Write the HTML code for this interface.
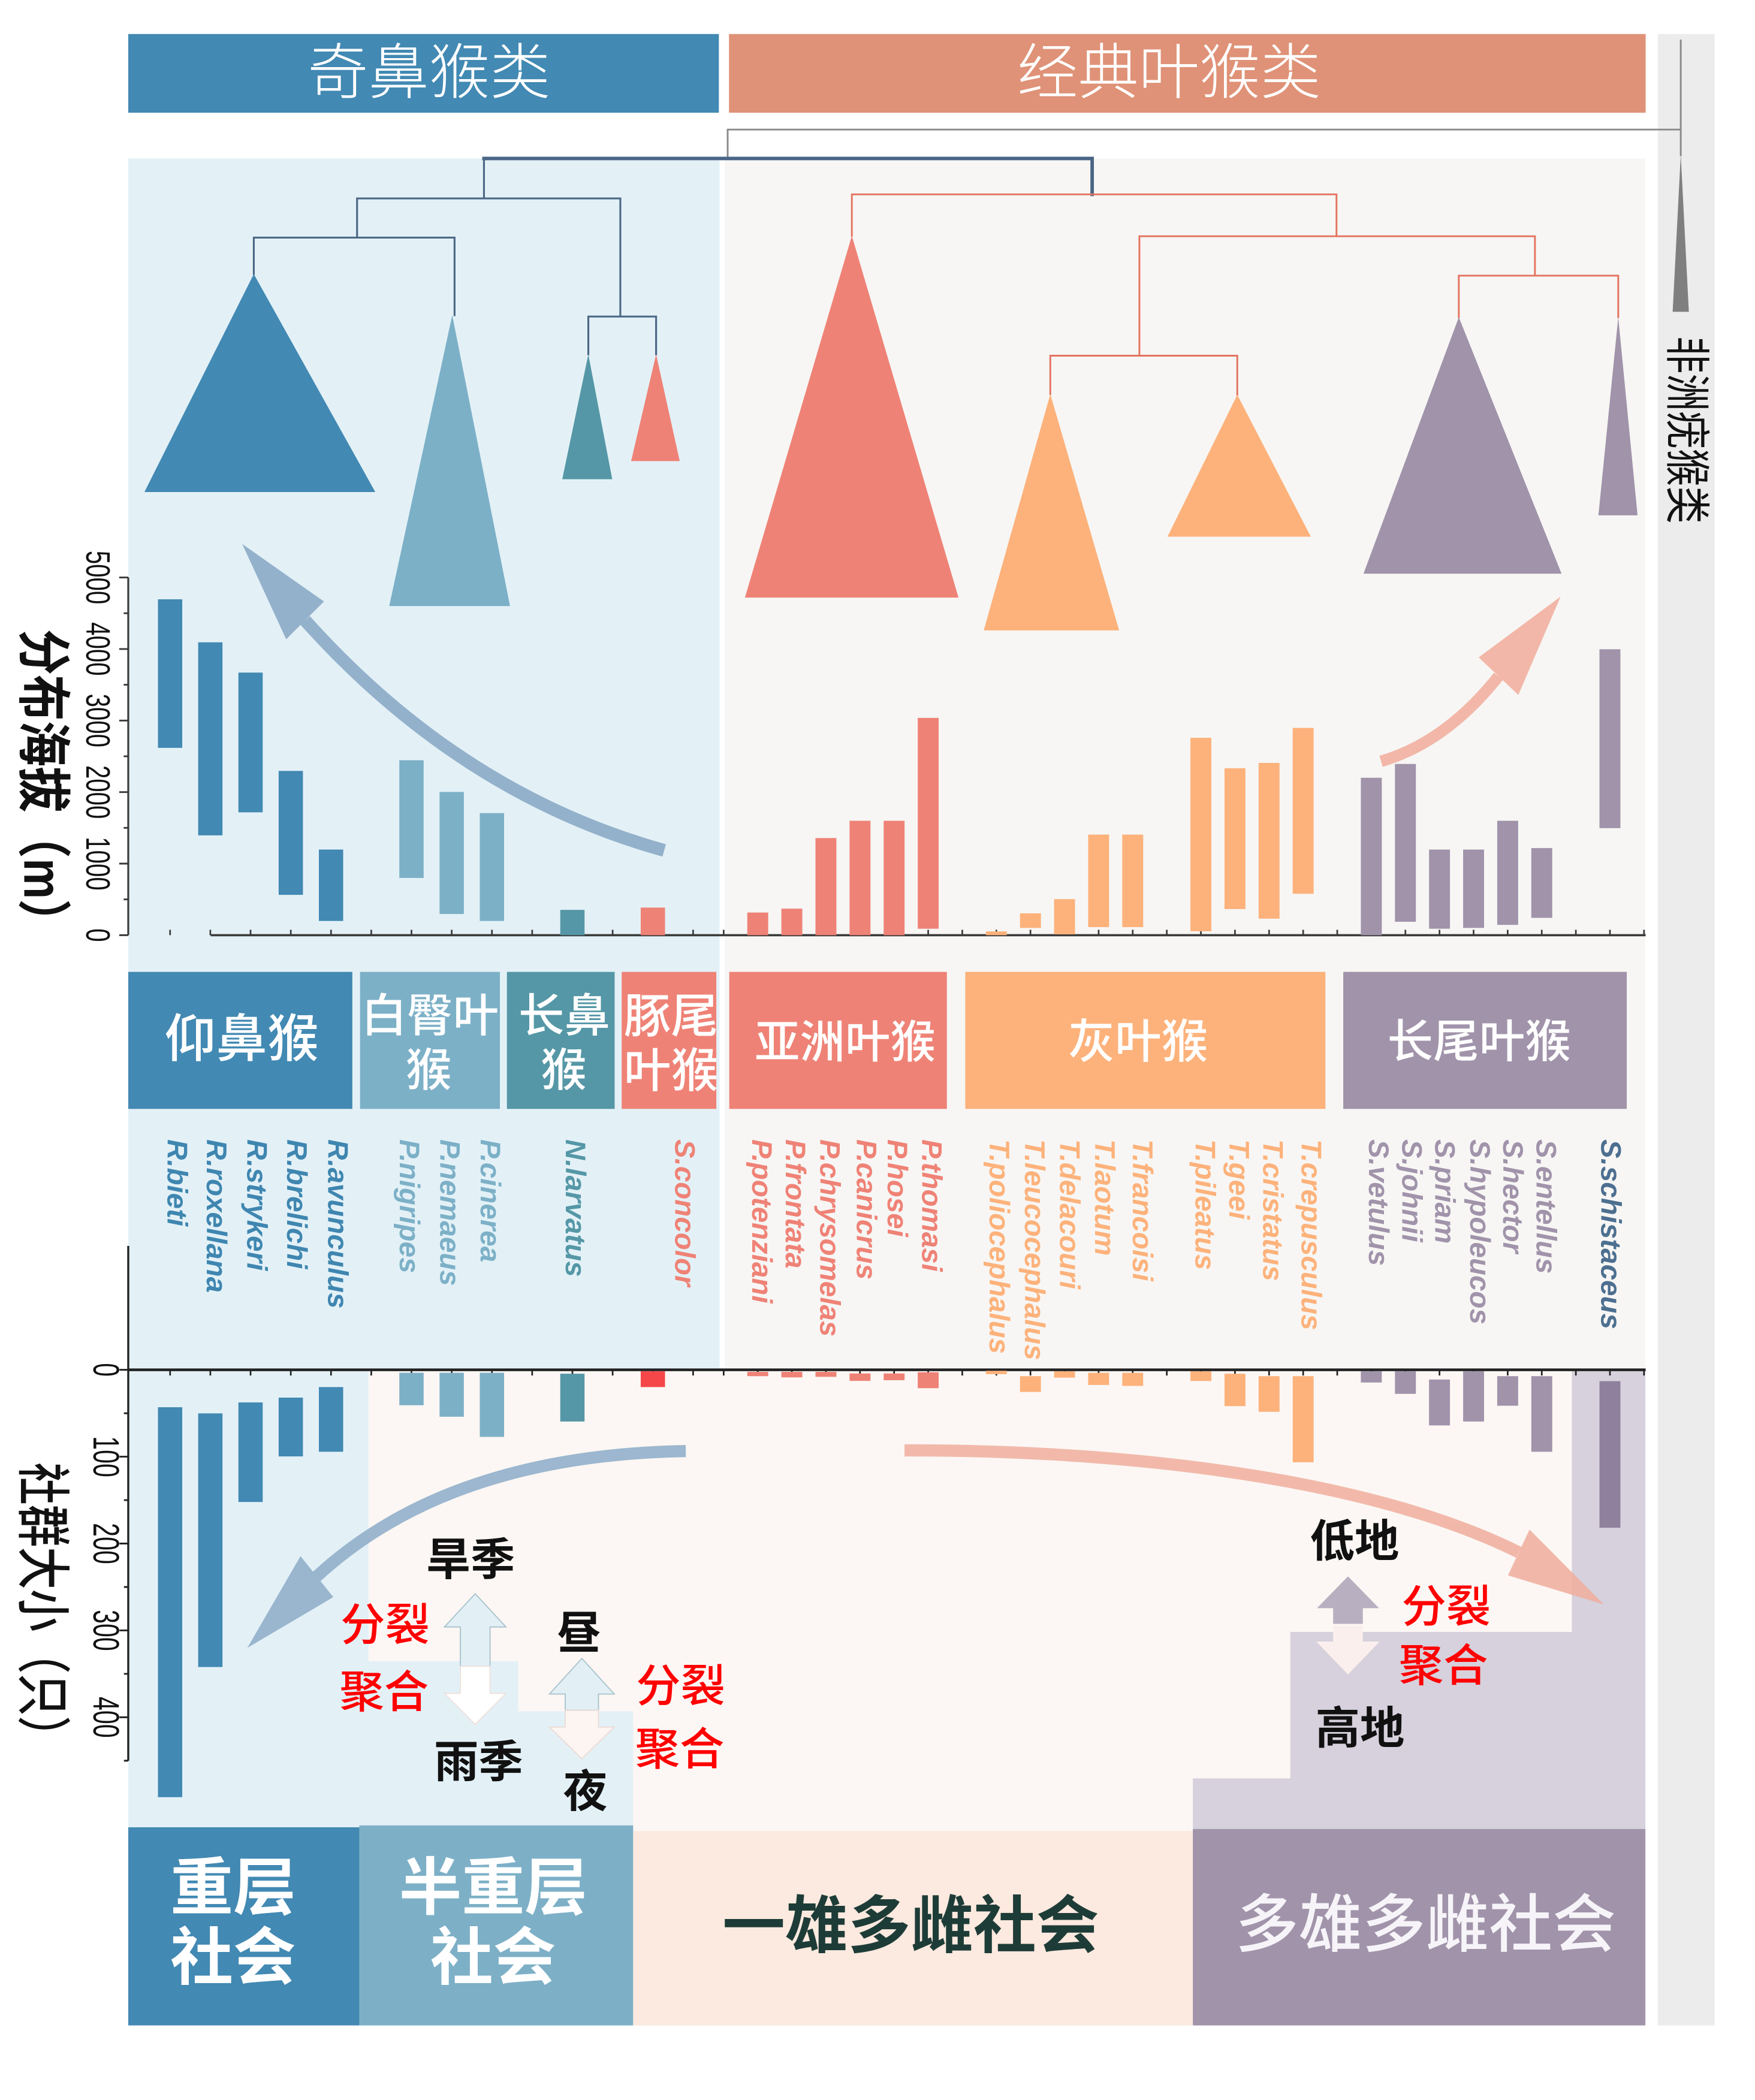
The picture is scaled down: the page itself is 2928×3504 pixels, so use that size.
<!DOCTYPE html>
<html><head><meta charset="utf-8"><style>
html,body{margin:0;padding:0;background:#fff;}
svg{display:block;}
.cj{font-family:"Liberation Sans","Noto Sans CJK SC",sans-serif;}
.nm{font-family:"Liberation Sans",sans-serif;font-style:italic;font-weight:bold;font-size:21.1px;}
.tk{font-family:"Liberation Sans",sans-serif;}
</style></head><body>
<svg width="2928" height="3504" viewBox="0 0 1300 1555.74" xmlns="http://www.w3.org/2000/svg">
<rect x="0" y="0" width="1300" height="1555.74" fill="#ffffff"/>

<!-- right gray column -->
<rect x="1228" y="25.2" width="42" height="1475.3" fill="#ececec"/>

<!-- header boxes -->
<rect x="95" y="25.2" width="437.5" height="58.3" fill="#4289b3"/>
<rect x="540" y="25.2" width="679" height="58.3" fill="#df9277"/>
<text class="cj" x="317.8" y="54" font-size="45" fill="#fff" text-anchor="middle" dominant-baseline="central" font-weight="300">奇鼻猴类</text>
<text class="cj" x="866" y="54" font-size="45" fill="#fff" text-anchor="middle" dominant-baseline="central" font-weight="300">经典叶猴类</text>

<!-- panels -->
<rect x="95" y="117.4" width="438" height="897.4" fill="#e3f1f7"/>
<rect x="537" y="117.4" width="681.6" height="897.4" fill="#f7f6f4"/>

<!-- lower regions -->
<polygon points="95,1014.8 273,1014.8 273,1230.6 384,1230.6 384,1267.7 469,1267.7 469,1358 95,1358" fill="#e3f1f7"/>
<polygon points="273,1014.8 1164.3,1014.8 1164.3,1209 955.8,1209 955.8,1317.5 883.6,1317.5 883.6,1358 469,1358 469,1267.7 384,1267.7 384,1230.6 273,1230.6" fill="#fcf7f4"/>
<polygon points="1164.3,1014.8 1218.8,1014.8 1218.8,1358 883.6,1358 883.6,1317.5 955.8,1317.5 955.8,1209 1164.3,1209" fill="#d6d1dc"/>

<!-- dendrogram -->
<g fill="none" stroke-linecap="square">
<path d="M1245 30V115 M539 96H1245 M539 96V117.4" stroke="#8a8a8a" stroke-width="1.3"/>
<path d="M358.5 117.4H809 M809 117.4V144" stroke="#4a6585" stroke-width="2.6"/>
<path d="M358.5 117.4V147 M264.5 147H459.5 M264.5 147V176 M459.5 147V234.5 M188 176H336.7 M188 176V203 M336.7 176V233.5 M435.8 234.5H486 M435.8 234.5V262.5 M486 234.5V262.5" stroke="#4d6886" stroke-width="1.4"/>
<path d="M631 144H990 M631 144V174.7 M990 144V175 M844 175H1137 M844 175V263.5 M778 263.5H916.5 M778 263.5V292 M916.5 263.5V292.5 M1137 175V204.2 M1080.6 204.2H1198.7 M1080.6 204.2V235 M1198.7 204.2V235" stroke="#e4735f" stroke-width="1.3"/>
</g>
<!-- clade triangles -->
<polygon points="188,203 107,364.5 278,364.5" fill="#4289b3"/>
<polygon points="335,233.5 288.3,449 377.8,449" fill="#7cb0c7"/>
<polygon points="435.8,262.5 416.5,355 453.5,355" fill="#5597a6"/>
<polygon points="486,262.5 467.5,341.6 503.5,341.6" fill="#ef8276"/>
<polygon points="631,174.7 551.8,442.7 710,442.7" fill="#ef8276"/>
<polygon points="778,292 728.7,467 829,467" fill="#fdb27b"/>
<polygon points="916.5,292.5 864.8,397.6 971,397.6" fill="#fdb27b"/>
<polygon points="1080.6,235 1010,425 1156.7,425" fill="#a093aa"/>
<polygon points="1198.7,235 1184,381.8 1213,381.8" fill="#a093aa"/>
<polygon points="1245,114.6 1239,231 1251,231" fill="#7f7f7f"/>
<text class="cj" transform="translate(1249,318.5) rotate(90)" font-size="34" fill="#111" text-anchor="middle" dominant-baseline="central" textLength="139" lengthAdjust="spacingAndGlyphs">非洲疣猴类</text>

<!-- upper axis -->
<g stroke="#3a3a3a" fill="none">
<path d="M95 427.8V692.8" stroke-width="1.4"/>
<path d="M88.3 427.8H95M88.3 480.8H95M88.3 533.8H95M88.3 586.8H95M88.3 639.8H95M88.3 692.8H95M91.6 454.3H95M91.6 507.3H95M91.6 560.3H95M91.6 613.3H95M91.6 666.3H95" stroke-width="1.3"/>
<path d="M156 692.8H1219" stroke-width="1.6"/>
<path d="M126 688.8V692.8M155.8 688.8V692.8M185.6 688.8V692.8M215.4 688.8V692.8M245.2 688.8V692.8M275 688.8V692.8M304.8 688.8V692.8M334.6 688.8V692.8M364.4 688.8V692.8M394.2 688.8V692.8M424 688.8V692.8M453.8 688.8V692.8M483.6 688.8V692.8M513.4 688.8V692.8M536.05 688.8V692.8M561.3 688.8V692.8M586.55 688.8V692.8M611.8 688.8V692.8M637.05 688.8V692.8M662.3 688.8V692.8M687.55 688.8V692.8M712.8 688.8V692.8M738.05 688.8V692.8M763.3 688.8V692.8M788.55 688.8V692.8M813.8 688.8V692.8M839.05 688.8V692.8M864.3 688.8V692.8M889.55 688.8V692.8M914.8 688.8V692.8M940.05 688.8V692.8M965.3 688.8V692.8M990.55 688.8V692.8M1015.8 688.8V692.8M1041.05 688.8V692.8M1066.3 688.8V692.8M1091.55 688.8V692.8M1116.8 688.8V692.8M1142.05 688.8V692.8M1167.3 688.8V692.8M1192.55 688.8V692.8M1217.8 688.8V692.8" stroke-width="1.2"/>
</g>
<g class="tk" font-size="25" fill="#111" text-anchor="middle" dominant-baseline="central">
<text transform="translate(72.5,427.8) rotate(90)" textLength="39.7" lengthAdjust="spacingAndGlyphs">5000</text>
<text transform="translate(72.5,480.8) rotate(90)" textLength="39.7" lengthAdjust="spacingAndGlyphs">4000</text>
<text transform="translate(72.5,533.8) rotate(90)" textLength="39.7" lengthAdjust="spacingAndGlyphs">3000</text>
<text transform="translate(72.5,586.8) rotate(90)" textLength="39.7" lengthAdjust="spacingAndGlyphs">2000</text>
<text transform="translate(72.5,639.8) rotate(90)" textLength="39.7" lengthAdjust="spacingAndGlyphs">1000</text>
<text transform="translate(72.5,692.8) rotate(90)" textLength="10" lengthAdjust="spacingAndGlyphs">0</text>
</g>
<text class="cj" transform="translate(31.5,583) rotate(90)" font-size="40" font-weight="bold" fill="#111" text-anchor="middle" dominant-baseline="central" textLength="234" lengthAdjust="spacingAndGlyphs">分布海拔（m）</text>

<!-- altitude bars -->
<g fill="#4289b3">
<rect x="117" y="443.98" width="18" height="110.06"/>
<rect x="146.8" y="475.84" width="18" height="143.02"/>
<rect x="176.6" y="498.27" width="18" height="103.52"/>
<rect x="206.4" y="571.12" width="18" height="91.81"/>
<rect x="236.2" y="629.38" width="18" height="52.9"/>
</g>
<g fill="#7cb0c7">
<rect x="295.8" y="563.18" width="18" height="87.24"/>
<rect x="325.6" y="586.7" width="18" height="90.42"/>
<rect x="355.4" y="602.38" width="18" height="79.9"/>
</g>
<rect x="415" y="674.05" width="18" height="18.76" fill="#5597a6"/>
<rect x="474.6" y="672.36" width="18" height="20.45" fill="#ef8276"/>
<g fill="#ef8276">
<rect x="553.55" y="676.03" width="15.5" height="16.78"/>
<rect x="578.8" y="673.15" width="15.5" height="19.66"/>
<rect x="604.05" y="620.85" width="15.5" height="71.96"/>
<rect x="629.3" y="608.05" width="15.5" height="84.76"/>
<rect x="654.55" y="608.05" width="15.5" height="84.76"/>
<rect x="679.8" y="531.83" width="15.5" height="156.2"/>
</g>
<g fill="#fdb27b">
<rect x="730.3" y="690" width="15.5" height="2.8"/>
<rect x="755.55" y="676.62" width="15.5" height="10.8"/>
<rect x="780.8" y="666.11" width="15.5" height="26.1"/>
<rect x="806.05" y="618.27" width="15.5" height="68.55"/>
<rect x="831.3" y="618.27" width="15.5" height="68.55"/>
<rect x="881.8" y="546.6" width="15.5" height="143.32"/>
<rect x="907.05" y="569.14" width="15.5" height="104.31"/>
<rect x="932.3" y="565.17" width="15.5" height="115.41"/>
<rect x="957.55" y="539.26" width="15.5" height="122.87"/>
</g>
<g fill="#a093aa">
<rect x="1008.05" y="576.18" width="15.5" height="116.63"/>
<rect x="1033.3" y="565.96" width="15.5" height="116.91"/>
<rect x="1058.55" y="629.38" width="15.5" height="58.65"/>
<rect x="1083.8" y="629.38" width="15.5" height="58.04"/>
<rect x="1109.05" y="608.05" width="15.5" height="77.11"/>
<rect x="1134.3" y="628.29" width="15.5" height="51.68"/>
<rect x="1184.8" y="480.99" width="15.5" height="132.51"/>
</g>

<!-- upper arrows -->
<path d="M492,630 Q341,588 226,459.6" fill="none" stroke="#94b1cb" stroke-width="9.5"/>
<polygon points="179.4,403 212,473.6 240,445.6" fill="#94b1cb"/>
<path d="M1023,564 Q1071,550 1110,501" fill="none" stroke="#f2b7a8" stroke-width="8.5"/>
<polygon points="1156,442 1095.3,487 1124.7,514.8" fill="#f2b7a8"/>

<!-- genus boxes -->
<rect x="95" y="720" width="166" height="101.5" fill="#4289b3"/>
<rect x="266.7" y="720" width="103.6" height="101.5" fill="#7cb0c7"/>
<rect x="375.5" y="720" width="79.8" height="101.5" fill="#5597a6"/>
<rect x="460.5" y="720" width="70.1" height="101.5" fill="#ef8276"/>
<rect x="540.2" y="720" width="161.2" height="101.5" fill="#ef8276"/>
<rect x="715" y="720" width="266.8" height="101.5" fill="#fdb27b"/>
<rect x="995" y="720" width="210" height="101.5" fill="#a093aa"/>
<g class="cj" fill="#fff" text-anchor="middle" dominant-baseline="central" font-weight="500">
<text x="179" y="770" font-size="38">仰鼻猴</text>
<text x="318.5" y="753" font-size="34">白臀叶</text>
<text x="317.5" y="793.5" font-size="34">猴</text>
<text x="418" y="753" font-size="34">长鼻</text>
<text x="417.5" y="793.5" font-size="34">猴</text>
<text x="497" y="753" font-size="35">豚尾</text>
<text x="497" y="793.5" font-size="35">叶猴</text>
<text x="626" y="772" font-size="33.5">亚洲叶猴</text>
<text x="843" y="772" font-size="34.5">灰叶猴</text>
<text x="1095.6" y="772" font-size="34">长尾叶猴</text>
</g>

<!-- species names -->
<g class="nm" dominant-baseline="central">
<g fill="#3f86b0">
<text transform="translate(131,844) rotate(90)">R.bieti</text>
<text transform="translate(160,844) rotate(90)">R.roxellana</text>
<text transform="translate(190,844) rotate(90)">R.strykeri</text>
<text transform="translate(219.5,844) rotate(90)">R.brelichi</text>
<text transform="translate(250,844) rotate(90)">R.avunculus</text>
</g>
<g fill="#7cb0c7">
<text transform="translate(303,844) rotate(90)">P.nigripes</text>
<text transform="translate(333,844) rotate(90)">P.nemaeus</text>
<text transform="translate(363,844) rotate(90)">P.cinerea</text>
</g>
<text fill="#5597a6" transform="translate(426,844) rotate(90)">N.larvatus</text>
<text fill="#ef8276" transform="translate(507,844) rotate(90)">S.concolor</text>
<g fill="#ef8276">
<text transform="translate(564,844) rotate(90)">P.potenziani</text>
<text transform="translate(589,844) rotate(90)">P.frontata</text>
<text transform="translate(614.5,844) rotate(90)">P.chrysomelas</text>
<text transform="translate(641.5,844) rotate(90)">P.canicrus</text>
<text transform="translate(664.5,844) rotate(90)">P.hosei</text>
<text transform="translate(690,844) rotate(90)">P.thomasi</text>
</g>
<g fill="#fdb27b">
<text transform="translate(740,844) rotate(90)">T.poliocephalus</text>
<text transform="translate(766,844) rotate(90)">T.leucocephalus</text>
<text transform="translate(792,844) rotate(90)">T.delacouri</text>
<text transform="translate(818,844) rotate(90)">T.laotum</text>
<text transform="translate(846,844) rotate(90)">T.francoisi</text>
<text transform="translate(892.5,844) rotate(90)">T.pileatus</text>
<text transform="translate(917.5,844) rotate(90)">T.geei</text>
<text transform="translate(942.5,844) rotate(90)">T.cristatus</text>
<text transform="translate(971,844) rotate(90)">T.crepusculus</text>
</g>
<g fill="#a093aa">
<text transform="translate(1021,844) rotate(90)">S.vetulus</text>
<text transform="translate(1045.5,844) rotate(90)">S.johnii</text>
<text transform="translate(1070,844) rotate(90)">S.priam</text>
<text transform="translate(1096,844) rotate(90)">S.hypoleucos</text>
<text transform="translate(1120.5,844) rotate(90)">S.hector</text>
<text transform="translate(1145,844) rotate(90)">S.entellus</text>
</g>
<text fill="#4d6f90" transform="translate(1193,844) rotate(90)">S.schistaceus</text>
</g>

<!-- lower axis -->
<g stroke="#222" fill="none">
<path d="M95 923V1304.4" stroke-width="1.5"/>
<path d="M88.5 1014.8H95M88.5 1079.15H95M88.5 1143.5H95M88.5 1207.85H95M88.5 1272.2H95M91.8 1046.98H95M91.8 1111.33H95M91.8 1175.68H95M91.8 1240.03H95M91.8 1304.38H95" stroke-width="1.3"/>
<path d="M95 1014.8H1219" stroke-width="2"/>
<path d="M126 1014.8V1019M155.8 1014.8V1019M185.6 1014.8V1019M215.4 1014.8V1019M245.2 1014.8V1019M275 1014.8V1019M304.8 1014.8V1019M334.6 1014.8V1019M364.4 1014.8V1019M394.2 1014.8V1019M424 1014.8V1019M453.8 1014.8V1019M483.6 1014.8V1019M513.4 1014.8V1019M536.05 1014.8V1019M561.3 1014.8V1019M586.55 1014.8V1019M611.8 1014.8V1019M637.05 1014.8V1019M662.3 1014.8V1019M687.55 1014.8V1019M712.8 1014.8V1019M738.05 1014.8V1019M763.3 1014.8V1019M788.55 1014.8V1019M813.8 1014.8V1019M839.05 1014.8V1019M864.3 1014.8V1019M889.55 1014.8V1019M914.8 1014.8V1019M940.05 1014.8V1019M965.3 1014.8V1019M990.55 1014.8V1019M1015.8 1014.8V1019M1041.05 1014.8V1019M1066.3 1014.8V1019M1091.55 1014.8V1019M1116.8 1014.8V1019M1142.05 1014.8V1019M1167.3 1014.8V1019M1192.55 1014.8V1019M1217.8 1014.8V1019" stroke-width="1.2"/>
</g>
<g class="tk" font-size="27" fill="#111" text-anchor="middle" dominant-baseline="central">
<text transform="translate(78.6,1014.8) rotate(90)" textLength="10" lengthAdjust="spacingAndGlyphs">0</text>
<text transform="translate(78.6,1079.15) rotate(90)" textLength="30.5" lengthAdjust="spacingAndGlyphs">100</text>
<text transform="translate(78.6,1143.5) rotate(90)" textLength="30.5" lengthAdjust="spacingAndGlyphs">200</text>
<text transform="translate(78.6,1207.85) rotate(90)" textLength="30.5" lengthAdjust="spacingAndGlyphs">300</text>
<text transform="translate(78.6,1272.2) rotate(90)" textLength="30.5" lengthAdjust="spacingAndGlyphs">400</text>
</g>
<text class="cj" transform="translate(31,1193) rotate(90)" font-size="40" font-weight="500" fill="#111" text-anchor="middle" dominant-baseline="central" textLength="219" lengthAdjust="spacingAndGlyphs">社群大小（只）</text>

<!-- group size bars -->
<g fill="#4289b3">
<rect x="117" y="1042.52" width="18" height="288.88"/>
<rect x="146.8" y="1047.07" width="18" height="187.91"/>
<rect x="176.6" y="1038.96" width="18" height="73.75"/>
<rect x="206.4" y="1035.39" width="18" height="43.56"/>
<rect x="236.2" y="1027.57" width="18" height="47.92"/>
</g>
<g fill="#7cb0c7">
<rect x="295.8" y="1016.98" width="18" height="24.06"/>
<rect x="325.6" y="1016.98" width="18" height="32.57"/>
<rect x="355.4" y="1016.98" width="18" height="47.52"/>
</g>
<rect x="415" y="1017.67" width="18" height="35.43" fill="#5597a6"/>
<rect x="474.6" y="1015.89" width="18" height="11.68" fill="#f5474a"/>
<g fill="#ef8276">
<rect x="553.55" y="1016.3" width="15.5" height="3.2"/>
<rect x="578.8" y="1016.3" width="15.5" height="4.1"/>
<rect x="604.05" y="1016.3" width="15.5" height="3.7"/>
<rect x="629.3" y="1017.5" width="15.5" height="5.5"/>
<rect x="654.55" y="1017.5" width="15.5" height="5"/>
<rect x="679.8" y="1016.6" width="15.5" height="11.8"/>
</g>
<g fill="#fdb27b">
<rect x="730.3" y="1015.5" width="15.5" height="2.5"/>
<rect x="755.55" y="1019.5" width="15.5" height="11.7"/>
<rect x="780.8" y="1015.9" width="15.5" height="4.7"/>
<rect x="806.05" y="1017" width="15.5" height="9"/>
<rect x="831.3" y="1017" width="15.5" height="9.7"/>
<rect x="881.8" y="1015.9" width="15.5" height="7.2"/>
<rect x="907.05" y="1017.7" width="15.5" height="24"/>
<rect x="932.3" y="1019.5" width="15.5" height="26.4"/>
<rect x="957.55" y="1019.5" width="15.5" height="63.8"/>
</g>
<g fill="#a093aa">
<rect x="1008.05" y="1015.9" width="15.5" height="8.3"/>
<rect x="1033.3" y="1015.9" width="15.5" height="16.7"/>
<rect x="1058.55" y="1022" width="15.5" height="34"/>
<rect x="1083.8" y="1015.9" width="15.5" height="37.2"/>
<rect x="1109.05" y="1019.5" width="15.5" height="21.9"/>
<rect x="1134.3" y="1019.5" width="15.5" height="56"/>
</g>
<rect x="1184.8" y="1023.2" width="15.5" height="108.6" fill="#8f819d"/>

<!-- lower curved arrows -->
<g opacity="0.92">
<path d="M508,1075 Q332,1078 234.5,1168" fill="none" stroke="#94b1cb" stroke-width="9"/>
<polygon points="183.2,1220.8 222.6,1152.8 246.9,1183.2" fill="#94b1cb"/>
</g>
<g opacity="0.85">
<path d="M670,1074.5 C800,1074 1000,1088 1125,1150" fill="none" stroke="#f0ae9d" stroke-width="9"/>
<polygon points="1188,1188.6 1133,1133.1 1117,1167.1" fill="#f0ae9d"/>
</g>

<!-- up/down arrows -->
<polygon points="352,1180.7 374.8,1205.3 363,1205.3 363,1234.4 341,1234.4 341,1205.3 329.2,1205.3" fill="#e2f0f6" stroke="#a7c2cb" stroke-width="0.8"/>
<polygon points="341,1234.4 363,1234.4 363,1254.5 374.8,1254.5 352,1277.5 329.2,1254.5 341,1254.5" fill="#ffffff" stroke="#efe0da" stroke-width="0.8"/>
<polygon points="431,1228.6 455,1255 443.3,1255 443.3,1267 418.7,1267 418.7,1255 407,1255" fill="#e2f0f6" stroke="#a7c2cb" stroke-width="0.8"/>
<polygon points="418.7,1267 443.3,1267 443.3,1279.4 455,1279.4 431,1303 407,1279.4 418.7,1279.4" fill="#fcf5f2" stroke="#eadad3" stroke-width="0.8"/>
<polygon points="998.5,1167.8 1021.5,1191.4 1009.5,1191.4 1009.5,1203 987.5,1203 987.5,1191.4 975.5,1191.4" fill="#b8b0c1"/>
<polygon points="987.5,1204.5 1009.5,1204.5 1009.5,1216.1 1022,1216.1 998.5,1240.5 975,1216.1 987.5,1216.1" fill="#fbefed"/>

<!-- arrow labels -->
<g class="cj" font-size="33" text-anchor="middle" dominant-baseline="central">
<text x="348.6" y="1155.4" fill="#111" font-weight="bold">旱季</text>
<text x="354.5" y="1305.4" fill="#111" font-weight="bold">雨季</text>
<text x="429.2" y="1210" fill="#111" font-weight="bold">昼</text>
<text x="433.6" y="1327.2" fill="#111" font-weight="bold">夜</text>
<text x="285.3" y="1203.8" fill="#ff0000" font-weight="500">分裂</text>
<text x="284.5" y="1253.6" fill="#ff0000" font-weight="500">聚合</text>
<text x="504.2" y="1249.2" fill="#ff0000" font-weight="500">分裂</text>
<text x="503.5" y="1296" fill="#ff0000" font-weight="500">聚合</text>
<text x="1003.4" y="1142" fill="#111" font-weight="bold">低地</text>
<text x="1007.4" y="1280.5" fill="#111" font-weight="bold">高地</text>
<text x="1071.3" y="1190.4" fill="#ff0000" font-weight="500">分裂</text>
<text x="1069.2" y="1234" fill="#ff0000" font-weight="500">聚合</text>
</g>

<!-- social boxes -->
<rect x="95" y="1353.7" width="171.2" height="146.8" fill="#4289b3"/>
<rect x="266.2" y="1352.3" width="202.8" height="148.2" fill="#7db0c7"/>
<rect x="469" y="1356.5" width="414.6" height="144" fill="#fce9df"/>
<rect x="883.6" y="1355" width="335.2" height="145.5" fill="#a093aa"/>
<g class="cj" text-anchor="middle" dominant-baseline="central" font-weight="bold">
<text x="172.7" y="1398.8" font-size="46.5" fill="#fff">重层</text>
<text x="172.7" y="1450.6" font-size="46.5" fill="#fff">社会</text>
<text x="365.3" y="1398.8" font-size="46.5" fill="#fff">半重层</text>
<text x="365.3" y="1450.6" font-size="46.5" fill="#fff">社会</text>
<text x="674.6" y="1427" font-size="46.5" fill="#1e3c37">一雄多雌社会</text>
<text x="1056" y="1426" font-size="47" fill="#f6f4f8" font-weight="500">多雄多雌社会</text>
</g>
</svg>
</body></html>
